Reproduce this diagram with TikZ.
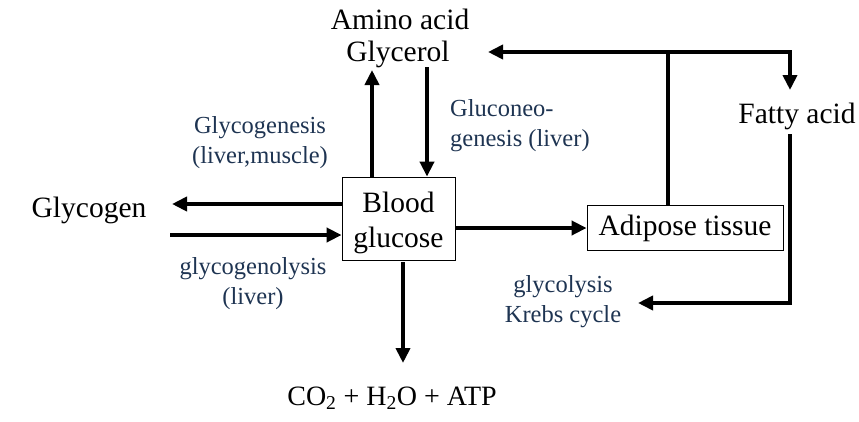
\documentclass[tikz,border=0pt]{standalone}
\usepackage{fontspec}
\setmainfont{Liberation Serif}
\usetikzlibrary{arrows.meta}
\definecolor{lblue}{RGB}{30,52,82}
\tikzset{
  big/.style={font=\fontsize{29.5}{34}\selectfont, inner sep=0pt},
  small/.style={font=\fontsize{24.5}{30}\selectfont, text=lblue, inner sep=0pt, align=center},
  arr/.style={line width=4pt, -{Triangle[length=15pt,width=14pt]}},
  ln/.style={line width=4pt},
  boxst/.style={draw, line width=0.8pt, inner sep=0pt}
}
\begin{document}
\begin{tikzpicture}[x=1pt,y=-1pt]
\useasboundingbox (0,0) rectangle (859,421);
% texts
\node[big] (amino) at (400,19) {Amino acid};
\node[big] (glycerol) at (398,54) {Glycerol};
\node[small, align=left, anchor=west] (gluco) at (450,126) {Gluconeo-\\genesis (liver)};
\node[small] (glycogenesis) at (260,143) {Glycogenesis\\(liver,muscle)};
\node[big] (glycogen) at (89,210) {Glycogen};
\node[boxst, minimum width=113pt, minimum height=83pt] (blood) at (398.5,218.5) {};
\node[big, align=center, font=\fontsize{29.5}{35}\selectfont] (bloodtxt) at (398.5,223) {Blood\\glucose};
\node[small] (glycogenolysis) at (253,284) {glycogenolysis\\(liver)};
\node[boxst, minimum width=196pt, minimum height=45pt, font=\fontsize{29.5}{34}\selectfont] (adipose) at (685,228) {Adipose tissue};
\node[big] (fatty) at (797,116) {Fatty acid};
\node[small] (krebs) at (563,302) {glycolysis\\Krebs cycle};
\node[big, font=\fontsize{28}{34}\selectfont] (co2) at (392,398) {CO\textsubscript{2} + H\textsubscript{2}O + ATP};
% coordinates
\coordinate (gl1) at (172,204);
\coordinate (gl2) at (170,235);
\coordinate (upTip) at (372,70);
\coordinate (downStart) at (427,67);
\coordinate (glyTip) at (488,52);
\coordinate (topJ) at (668,52);
\coordinate (topR) at (790,52);
\coordinate (faTip) at (790,90);
\coordinate (faStart) at (790,134);
\coordinate (faCorner) at (790,303);
\coordinate (krTip) at (638,303);
\coordinate (co2Tip) at (403,363);
% connectors
\draw[arr] (blood.west |- gl1) -- (gl1);
\draw[arr] (gl2) -- (blood.west |- gl2);
\draw[arr] (blood.north -| upTip) -- (upTip);
\draw[arr] (downStart) -- (blood.north -| downStart);
\draw[arr] (blood.east |- adipose.west) -- (adipose.west);
\draw[ln] (adipose.north -| topJ) -- (topJ);
\draw[arr] (topJ) -- (glyTip);
\draw[arr] (topJ) -- (topR) -- (faTip);
\draw[arr] (faStart) -- (faCorner) -- (krTip);
\draw[arr] (blood.south -| co2Tip) ++(0,2) -- (co2Tip);
\end{tikzpicture}
\end{document}
